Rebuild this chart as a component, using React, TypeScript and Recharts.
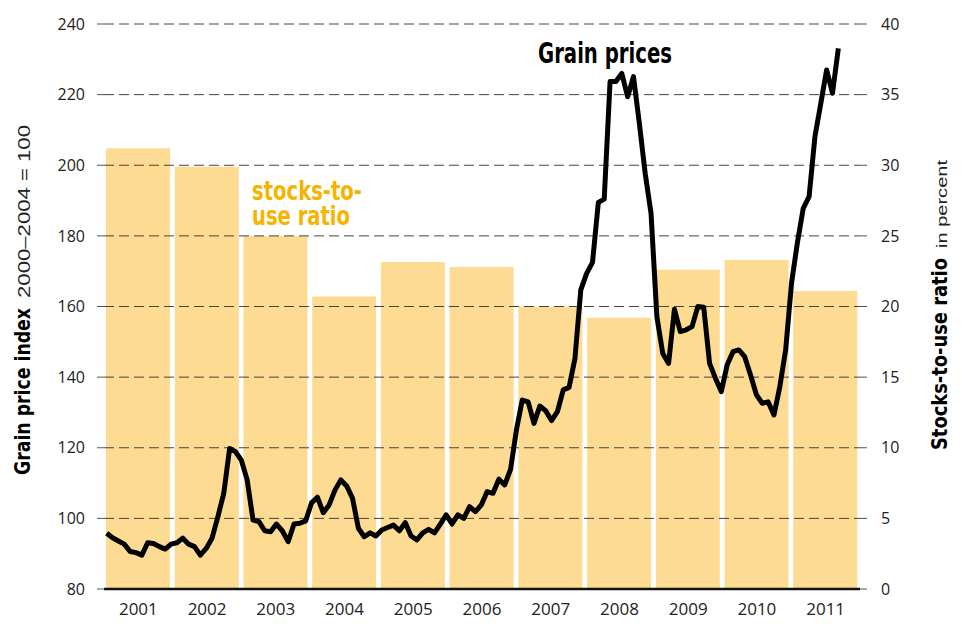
import React from 'react';
import { ComposedChart, Bar, Line, XAxis, YAxis, ReferenceLine } from 'recharts';

// yearly stocks-to-use ratio (right axis, percent)
const years = ['2001', '2002', '2003', '2004', '2005', '2006', '2007', '2008', '2009', '2010', '2011'];
const stocksToUse = [31.2, 29.9, 25.0, 20.7, 23.15, 22.8, 20.0, 19.2, 22.6, 23.3, 21.1];

// monthly grain price index, 2000-2004 = 100 (left axis)
const grainPrices = [
  95.8, 94.5, 93.6, 92.7, 90.6, 90.3, 89.6, 93.1, 92.9, 92.0, 91.3, 92.7,
  93.1, 94.4, 92.7, 92.0, 89.6, 91.5, 94.4, 100.5, 107.1, 119.8, 118.9, 116.5,
  110.9, 99.5, 99.1, 96.5, 96.2, 98.4, 96.5, 93.4, 98.4, 98.6, 99.3, 104.4,
  106.0, 101.6, 103.8, 108.0, 110.9, 109.2, 105.7, 97.2, 94.8, 95.9, 95.0, 96.7,
  97.4, 98.1, 96.5, 98.8, 95.0, 93.9, 95.9, 96.9, 95.9, 98.4, 101.0, 98.4,
  101.0, 100.0, 103.3, 101.9, 103.8, 107.6, 107.1, 111.1, 109.5, 113.9, 125.0, 133.5,
  133.0, 126.9, 131.8, 130.5, 127.7, 130.2, 136.4, 137.1, 145.3, 164.7, 169.4, 172.5,
  189.5, 190.4, 223.7, 223.7, 226.0, 219.4, 225.1, 211.9, 197.7, 186.4, 157.1, 146.7,
  143.9, 159.2, 152.9, 153.4, 154.3, 160.0, 159.8, 143.9, 139.7, 135.9, 143.4, 147.2,
  147.7, 145.8, 140.6, 135.0, 132.6, 133.0, 129.3, 137.3, 147.7, 166.6, 178.0, 187.8,
  191.1, 208.1, 217.5, 227.0, 220.4, 233.1,
];

const priceTicks = [80, 100, 120, 140, 160, 180, 200, 220, 240];
const ratioTicks = [0, 5, 10, 15, 20, 25, 30, 35, 40];

const yearData = years.map((year, i) => ({ year, ratio: stocksToUse[i] }));
const priceData = grainPrices.map((price, m) => ({ m, price }));

const NARROW = "'Liberation Sans Narrow', 'DejaVu Sans Condensed', sans-serif";
const tickFont = { fill: '#222', fontSize: 16, fontFamily: "'Open Sans', sans-serif" };

const App: React.FC = () => {
  return (
    <div style={{ position: 'absolute', left: 0, top: 0, width: 962, height: 624, background: '#fff' }}>
      <ComposedChart width={962} height={624} data={yearData} margin={{ top: 24, right: 0, bottom: 0, left: 0 }}>
        <XAxis
          xAxisId="year"
          dataKey="year"
          height={35}
          interval={0}
          axisLine={{ stroke: '#111', strokeWidth: 2.5 }}
          tickLine={false}
          tickSize={6}
          tickMargin={8}
          tick={{ ...tickFont, fontSize: 17 }}
        />
        <XAxis xAxisId="m" type="number" dataKey="m" domain={[-0.46, 128.7]} allowDataOverflow hide height={0} />
        <YAxis
          yAxisId="left"
          orientation="left"
          width={104}
          domain={[80, 240]}
          ticks={priceTicks}
          axisLine={false}
          tickSize={7}
          tickMargin={12}
          tickLine={{ stroke: '#555' }}
          tick={tickFont}
        />
        <YAxis
          yAxisId="right"
          orientation="right"
          width={102}
          domain={[0, 40]}
          ticks={ratioTicks}
          axisLine={false}
          tickSize={7}
          tickMargin={14}
          tickLine={{ stroke: '#555' }}
          tick={tickFont}
        />
        <Bar xAxisId="year" yAxisId="right" dataKey="ratio" fill="#fddb92" barSize={64} isAnimationActive={false} />
        {priceTicks.slice(1).map((t) => (
          <ReferenceLine key={t} xAxisId="year" yAxisId="left" y={t} stroke="#444" strokeDasharray="10 5" />
        ))}
        <Line
          xAxisId="m"
          yAxisId="left"
          data={priceData}
          dataKey="price"
          type="linear"
          stroke="#000"
          strokeWidth={5}
          strokeLinejoin="round"
          dot={false}
          activeDot={false}
          isAnimationActive={false}
        />
      </ComposedChart>

      {/* annotations and axis titles */}
      <svg width={962} height={624} style={{ position: 'absolute', left: 0, top: 0, pointerEvents: 'none' }}>
        <text x={538} y={63} fontFamily={NARROW} fontWeight="bold" fontSize={28} fill="#000" textLength={134} lengthAdjust="spacingAndGlyphs">
          Grain prices
        </text>
        <text x={252} y={200} fontFamily={NARROW} fontWeight="bold" fontSize={26} fill="#f5b400" textLength={110} lengthAdjust="spacingAndGlyphs">
          stocks-to-
        </text>
        <text x={252} y={225} fontFamily={NARROW} fontWeight="bold" fontSize={26} fill="#f5b400" textLength={98} lengthAdjust="spacingAndGlyphs">
          use ratio
        </text>

        <g transform="translate(30,475) rotate(-90)">
          <text x={0} y={0} fontFamily={NARROW} fontWeight="bold" fontSize={21} fill="#000" textLength={167} lengthAdjust="spacingAndGlyphs">
            Grain price index
          </text>
          <text x={177} y={0} fontFamily="'Liberation Sans', sans-serif" fontSize={16} fill="#222" textLength={173} lengthAdjust="spacingAndGlyphs">
            2000–2004 = 100
          </text>
        </g>
        <g transform="translate(947,450) rotate(-90)">
          <text x={0} y={0} fontFamily={NARROW} fontWeight="bold" fontSize={21} fill="#000" textLength={192} lengthAdjust="spacingAndGlyphs">
            Stocks-to-use ratio
          </text>
          <text x={202} y={0} fontFamily="'Liberation Sans', sans-serif" fontSize={15} fill="#222" textLength={88} lengthAdjust="spacingAndGlyphs">
            in percent
          </text>
        </g>
      </svg>
    </div>
  );
};

export default App;
